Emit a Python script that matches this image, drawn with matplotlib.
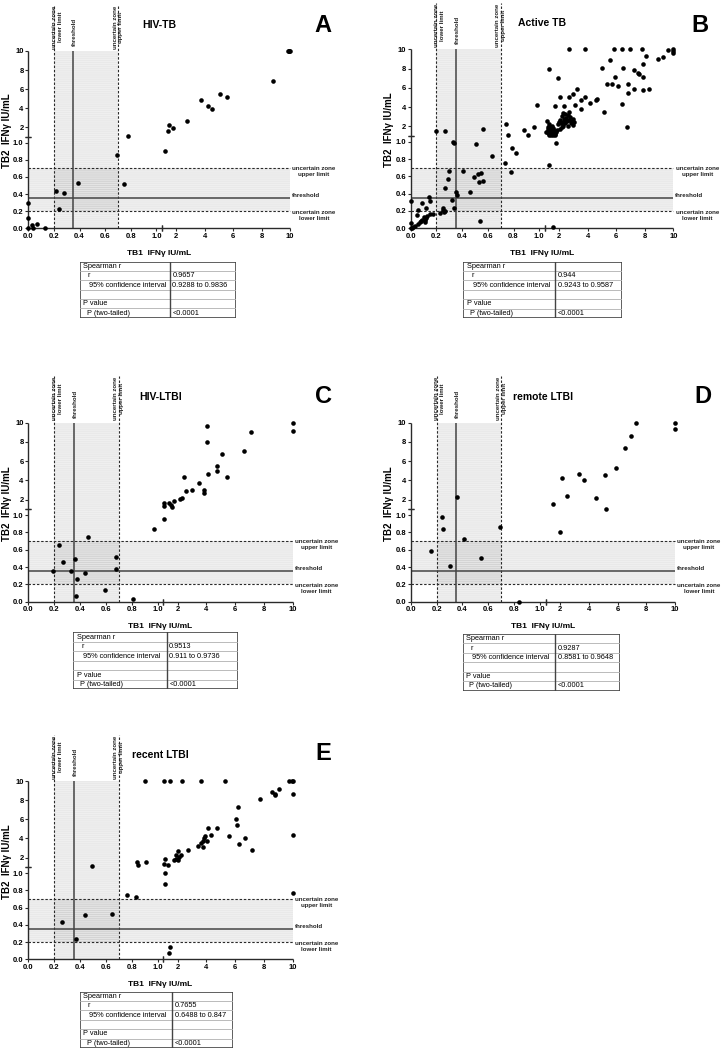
import numpy as np
import matplotlib
matplotlib.use('Agg')
import matplotlib.pyplot as plt
from matplotlib.patches import Rectangle

plt.rcParams['font.family'] = ['Liberation Sans', 'DejaVu Sans']
plt.rcParams['hatch.linewidth'] = 0.6

W, H = 725, 1050
GX, GY = 0.043, 0.068

# ---------------- data ----------------
titles = ["HIV-TB", "Active TB", "HIV-LTBI", "remote LTBI", "recent LTBI"]
letters = ["A", "B", "C", "D", "E"]
spearman_r = ["0.9657", "0.944", "0.9513", "0.9287", "0.7655"]
conf_int = ["0.9288 to 0.9836", "0.9243 to 0.9587", "0.911 to 0.9736",
            "0.8581 to 0.9648", "0.6488 to 0.847"]
p_two = ["<0.0001", "<0.0001", "<0.0001", "<0.0001", "<0.0001"]

x_ticks_low = [0.0, 0.2, 0.4, 0.6, 0.8, 1.0]
x_ticks_high = [2, 4, 6, 8, 10]
low_labels = ["0.0", "0.2", "0.4", "0.6", "0.8", "1.0"]
high_labels = ["2", "4", "6", "8", "10"]

hivtb_tb1 = [9.85, 9.9, 9.95, 10.0, 8.83, 5.05, 5.57, 3.75, 4.26, 4.5, 2.79, 1.51, 1.44, 1.79,
             0.78, 1.23, 0.69, 0.75, 0.39, 0.22, 0.28, 0.24, 0.0, 0.0, 0.0, 0.03, 0.07, 0.04, 0.13]
hivtb_tb2 = [10, 10, 10, 10, 6.8, 5.5, 5.2, 4.9, 4.18, 3.9, 2.63, 2.18, 1.58, 1.9,
             1.1, 0.9, 0.85, 0.52, 0.53, 0.44, 0.41, 0.22, 0.30, 0.12, 0.0, 0.04, 0.05, 0.0, 0.0]

active_tb1 = [
    2.70, 3.82, 5.86, 6.40, 6.98, 7.82, 10, 10, 10, 9.65, 9.3, 8.95, 8.1, 7.85, 5.56, 5.0, 6.5,
    7.26, 7.5, 7.6, 7.87, 5.9, 1.95, 1.3, 5.35, 5.72, 6.16, 6.82, 6.4, 5.16, 6.73, 6.84, 7.22,
    7.85, 8.27,
    3.26, 2.96, 2.68, 2.05, 3.82, 3.57, 4.67, 4.6, 4.2, 3.55, 3.12, 2.37, 1.75, 0.98,
    1.15, 1.3, 1.25, 1.5, 1.6, 1.4, 1.3, 1.2, 1.45, 1.65, 1.35, 1.5, 1.6, 1.2, 1.3, 1.7, 1.8,
    1.85, 1.9, 2.0, 1.55, 1.4, 1.25, 1.75, 1.45, 1.1, 1.35, 1.55,
    2.3, 2.45, 2.2, 2.6, 2.8, 2.5, 2.35, 2.1, 2.7, 2.9, 2.55, 2.3, 2.15, 2.45, 2.85, 3.0, 2.6,
    2.2, 2.05, 2.4, 2.95, 2.25, 3.05, 2.7,
    0.2, 0.27, 0.56, 0.74, 0.76, 0.33, 0.34, 0.51, 0.63, 0.79, 0.82, 0.88, 0.91, 0.96, 0.73,
    0.78, 1.28, 1.77, 1.6,
    0.41, 0.3, 0.29, 0.27, 0.49, 0.52, 0.55, 0.53, 0.56, 0.46, 0.35, 0.36, 0.32, 0.34, 0.54,
    0.25, 0.25, 0.26, 0.27, 0.23, 0.15, 0.14, 0.12, 0.09, 0.06, 0.05, 0.17, 0.15, 0.13, 0.12,
    0.11, 0.09, 0.08, 0.07, 0.06, 0.03, 0.02, 0.0, 0.0, 0.01, 0.0, 0.11, 0.1]
active_tb2 = [
    10, 10, 10, 10, 10, 10, 10, 9.8, 9.65, 9.9, 9.2, 9.0, 9.35, 8.45, 8.9, 8.05, 8.05,
    7.86, 7.5, 7.45, 7.07, 7.1, 7.0, 7.9, 6.4, 6.4, 6.2, 6.4, 4.35, 3.5, 1.95, 5.45, 5.85,
    5.8, 5.85,
    5.85, 5.35, 5.0, 5.0, 5.07, 4.76, 4.8, 4.7, 4.45, 3.8, 4.17, 4.14, 4.1, 4.24,
    2.5, 2.2, 1.95, 2.0, 1.85, 1.7, 1.6, 1.5, 1.45, 1.55, 1.3, 1.2, 1.1, 1.25, 1.1, 1.05, 1.4,
    1.65, 2.2, 2.4, 1.75, 1.95, 1.75, 1.2, 1.05, 1.4, 1.5, 1.35,
    3.4, 3.3, 3.1, 3.2, 3.0, 2.9, 2.8, 2.6, 2.6, 2.5, 2.5, 2.45, 2.3, 2.3, 2.3, 2.1, 2.05,
    1.9, 1.7, 2.6, 2.75, 2.0, 2.4, 3.45,
    1.55, 1.55, 1.7, 2.2, 1.1, 1.0, 0.99, 0.97, 0.83, 0.93, 0.87, 1.6, 1.1, 1.9, 0.76,
    0.65, 0.73, 0.99, 0.01,
    0.66, 0.66, 0.57, 0.46, 0.59, 0.63, 0.64, 0.54, 0.55, 0.42, 0.42, 0.39, 0.33, 0.24, 0.09,
    0.23, 0.21, 0.19, 0.2, 0.18, 0.31, 0.36, 0.24, 0.29, 0.21, 0.15, 0.17, 0.16, 0.14, 0.12,
    0.1, 0.1, 0.09, 0.07, 0.05, 0.03, 0.02, 0.06, 0.32, 0.0, 0.0, 0.07, 0.13]

hivltbi_tb1 = [10, 10, 7.1, 4.07, 4.07, 5.06, 6.64, 4.76, 4.76, 4.1, 5.45, 2.42, 3.51, 3.83,
               3.83, 2.97, 2.58, 2.28, 2.16, 1.05, 1.05, 1.42, 1.56, 1.6, 1.72, 1.05, 0.97, 0.81,
               0.46, 0.24, 0.27, 0.36, 0.19, 0.33, 0.38, 0.44, 0.37, 0.59, 0.68, 0.68]
hivltbi_tb2 = [10, 9.14, 9.07, 9.66, 7.97, 6.76, 7.07, 5.45, 5.0, 4.62, 4.31, 4.31, 3.72, 3.03,
               2.72, 2.97, 2.9, 2.17, 2.07, 1.65, 1.3, 1.7, 1.4, 1.25, 1.85, 0.95, 0.84, 0.03,
               0.75, 0.65, 0.46, 0.49, 0.36, 0.35, 0.26, 0.33, 0.07, 0.13, 0.52, 0.38]

remote_tb1 = [10, 10, 7.26, 6.96, 6.54, 5.9, 5.16, 5.18, 4.49, 3.64, 3.29, 2.16, 2.51, 1.54,
              1.97, 0.36, 0.24, 0.25, 0.69, 0.41, 0.16, 0.54, 0.3, 0.84]
remote_tb2 = [10, 9.3, 10, 8.57, 7.39, 5.34, 4.6, 1.07, 2.2, 4.02, 4.71, 4.26, 2.39, 1.51,
              0.81, 2.28, 0.98, 0.84, 0.86, 0.72, 0.59, 0.5, 0.41, 0.0]

recent_tb1 = [0.9, 1.02, 1.44, 2.28, 3.63, 5.26, 9.77, 9.98, 10, 10, 10, 10, 9.06, 8.55, 8.74,
              8.8, 7.76, 6.17, 6.06, 6.13, 6.27, 6.66, 7.2, 5.57, 4.33, 4.75, 4.08, 3.92, 4.03,
              3.75, 3.8, 3.63, 3.75, 3.4, 2.7, 2.23, 2.12, 2.02, 2.02, 1.88, 1.72, 1.88, 1.12,
              1.02, 1.35, 1.12, 1.12, 0.84, 0.85, 0.91, 0.76, 0.83, 0.49, 0.26, 0.44, 0.65, 0.37,
              1.49, 1.4]
recent_tb2 = [10, 10, 10, 10, 10, 10, 10, 10, 10, 8.64, 4.34, 0.77, 9.17, 8.8, 8.6,
              8.55, 8.08, 7.3, 6.0, 5.38, 3.4, 4.0, 2.77, 4.27, 4.34, 5.1, 5.1, 4.27, 3.7,
              3.7, 4.03, 3.5, 3.1, 3.2, 2.77, 2.24, 2.07, 1.72, 2.7, 2.24, 1.79, 1.9, 1.86,
              1.37, 1.23, 1.0, 0.87, 1.55, 1.2, 1.55, 0.75, 0.72, 1.1, 0.43, 0.51, 0.53, 0.24,
              0.14, 0.07]

panel_x = [hivtb_tb1, active_tb1, hivltbi_tb1, remote_tb1, recent_tb1]
panel_y = [hivtb_tb2, active_tb2, hivltbi_tb2, remote_tb2, recent_tb2]

# ---------------- layout (pixels) ----------------
# x0, x10, y0, y10
axes_px = [(28.3, 290.0, 228.3, 51.0), (410.7, 673.3, 228.3, 49.3),
           (28.3, 292.7, 601.7, 422.7), (410.7, 675.0, 601.7, 422.7),
           (28.3, 292.7, 959.3, 781.0)]
# left, top, right, bottom, divider
table_px = [(80, 261.7, 236, 317.7, 170), (463.3, 261.7, 621.7, 318, 555),
            (73.3, 632.3, 238.3, 689.3, 166.7), (462.7, 634, 620, 690.7, 555),
            (80, 991.7, 233, 1048, 172.3)]
letter_px = [(323, 25), (700, 25), (323, 396), (703, 396), (323, 754)]


def fwd_factory(g):
    def fwd(v):
        v = np.asarray(v, dtype=float)
        return np.where(v <= 1, v, 1 + g + (v - 1) / 9.0)
    return fwd


def inv_factory(g):
    def inv(u):
        u = np.asarray(u, dtype=float)
        return np.where(u <= 1, u, np.where(u < 1 + g, 1.0, 1 + (u - 1 - g) * 9.0))
    return inv


fig = plt.figure(figsize=(W / 100, H / 100), dpi=100)

DASH = (0, (2.2, 1.6))
AXC = '#2a2a2a'
BAND = (0.0, 0.0, 0.0, 0.085)
STRIPE = (1.0, 1.0, 1.0, 0.35)
LBL = 4.4


def draw_panel(i):
    x0, x10, y0, y10 = axes_px[i]
    axw, axh = x10 - x0, y0 - y10
    ax = fig.add_axes([x0 / W, 1 - y0 / H, axw / W, axh / H])
    ax.set_xscale('function', functions=(fwd_factory(GX), inv_factory(GX)))
    ax.set_yscale('function', functions=(fwd_factory(GY), inv_factory(GY)))
    ax.set_xlim(0, 10)
    ax.set_ylim(0, 10)
    ax.patch.set_visible(False)
    for s in ax.spines.values():
        s.set_visible(False)

    # uncertain zones
    for span in (ax.axvspan(0.2, 0.7, 0, 1), ax.axhspan(0.2, 0.7, 0, 1)):
        span.set_facecolor(BAND)
        span.set_edgecolor(STRIPE)
        span.set_linewidth(0)
        span.set_hatch('--------')
        span.set_zorder(1)
    for v in (0.2, 0.7):
        ax.axhline(v, 0, 1, color=AXC, lw=0.8, ls=DASH, zorder=2, clip_on=False)
        ax.axvline(v, 0, 1.26, color=AXC, lw=0.8, ls=DASH, zorder=2, clip_on=False)
    ax.axhline(0.35, 0, 1, color='#444444', lw=1.1, zorder=2)
    ax.axvline(0.35, 0, 1, color='#444444', lw=1.1, zorder=2)

    # broken axes
    kw = dict(color=AXC, lw=1.0, clip_on=False, zorder=3, solid_capstyle='butt')
    ax.plot([0, 1.005], [0, 0], **kw)
    ax.plot([1.0001, 10], [0, 0], **kw)
    ax.plot([0, 0], [0, 1.005], **kw)
    ax.plot([0, 0], [1.0001, 10], **kw)
    ax.plot([1.005, 1.0001], [0, 0], ls='none', marker='|', ms=4, mew=0.9, color=AXC,
            clip_on=False, zorder=3)
    ax.plot([0, 0], [1.005, 1.0001], ls='none', marker='_', ms=4, mew=0.9, color=AXC,
            clip_on=False, zorder=3)

    ticks = x_ticks_low + x_ticks_high
    labels = low_labels + high_labels
    ax.set_xticks(ticks)
    ax.set_xticklabels(labels)
    ax.set_yticks(ticks)
    ax.set_yticklabels(labels)
    ax.minorticks_off()
    ax.tick_params(direction='out', length=2.2, width=0.8, color=AXC, pad=1.2,
                   labelsize=5.5)
    for t in ax.get_xticklabels() + ax.get_yticklabels():
        t.set_fontweight('bold')

    # points
    ax.plot(panel_x[i], panel_y[i], 'o', color='black', ms=3.3, mew=0, clip_on=False,
            zorder=5)

    # axis labels and title
    ax.text(0.5, -25 / axh, 'TB1  IFN\u03b3 IU/mL', transform=ax.transAxes, ha='center',
            va='center', fontsize=6, fontweight='bold')
    ax.text(-21.5 / axw, 0.55, 'TB2  IFN\u03b3 IU/mL', transform=ax.transAxes,
            ha='center', va='center', rotation=90, fontsize=7, fontweight='bold')
    ax.text(0.5, 1 + 26 / axh, titles[i], transform=ax.transAxes, ha='center',
            va='center', fontsize=7.5, fontweight='bold')

    # vertical line labels
    ax.annotate('uncertain zone\nlower limit', xy=(0.2, 1 + 24 / axh),
                xycoords=('data', 'axes fraction'), xytext=(3.3, 0),
                textcoords='offset pixels', rotation=90, ha='center', va='center',
                multialignment='center', fontsize=LBL, fontweight='bold', color='#222222')
    ax.annotate('threshold', xy=(0.35, 1 + 19 / axh),
                xycoords=('data', 'axes fraction'), xytext=(1.5, 0),
                textcoords='offset pixels', rotation=90, ha='center', va='center',
                fontsize=LBL, fontweight='bold', color='#222222')
    ax.annotate('uncertain zone\nupper limit', xy=(0.7, 1 + 24 / axh),
                xycoords=('data', 'axes fraction'), xytext=(0, 0),
                textcoords='offset pixels', rotation=90, ha='center', va='center',
                multialignment='center', fontsize=LBL, fontweight='bold', color='#222222')
    # horizontal line labels
    ax.annotate('uncertain zone\nupper limit', xy=(1, 0.7),
                xycoords=('axes fraction', 'data'), xytext=(24, -3.5),
                textcoords='offset pixels', ha='center', va='center',
                multialignment='center', fontsize=LBL, fontweight='bold', color='#222222')
    ax.annotate('threshold', xy=(1, 0.35),
                xycoords=('axes fraction', 'data'), xytext=(2, 3),
                textcoords='offset pixels', ha='left', va='center',
                fontsize=LBL, fontweight='bold', color='#222222')
    ax.annotate('uncertain zone\nlower limit', xy=(1, 0.2),
                xycoords=('axes fraction', 'data'), xytext=(24, -4.5),
                textcoords='offset pixels', ha='center', va='center',
                multialignment='center', fontsize=LBL, fontweight='bold', color='#222222')

    # panel letter
    lx, ly = letter_px[i]
    fig.text(lx / W, 1 - ly / H, letters[i], ha='center', va='center', fontsize=17,
             fontweight='bold')


def draw_table(i):
    l, t, r, b, d = table_px[i]
    tw, th = r - l, b - t
    tax = fig.add_axes([l / W, 1 - b / H, tw / W, th / H])
    tax.set_xlim(0, tw)
    tax.set_ylim(th, 0)
    tax.axis('off')
    rh = th / 6.0
    for k in range(1, 6):
        tax.plot([0, tw], [k * rh, k * rh], color='#b0b0b0', lw=0.6)
    tax.plot([d - l, d - l], [0, th], color='#444444', lw=1.0)
    tax.add_patch(Rectangle((0, 0), tw, th, fill=False, ec='#444444', lw=1.2))
    rows = [("Spearman r", 3.3, ""), ("r", 8, spearman_r[i]),
            ("95% confidence interval", 9.3, conf_int[i]), ("", 0, ""),
            ("P value", 3.3, ""), ("P (two-tailed)", 6.7, p_two[i])]
    for k, (lab, ind, val) in enumerate(rows):
        yc = (k + 0.5) * rh
        if lab:
            tax.text(ind, yc, lab, ha='left', va='center', fontsize=5.3)
        if val:
            tax.text(d - l + 2.5, yc, val, ha='left', va='center', fontsize=5.3)


for i in range(5):
    draw_panel(i)
    draw_table(i)

fig.savefig('out.png', dpi=100)
